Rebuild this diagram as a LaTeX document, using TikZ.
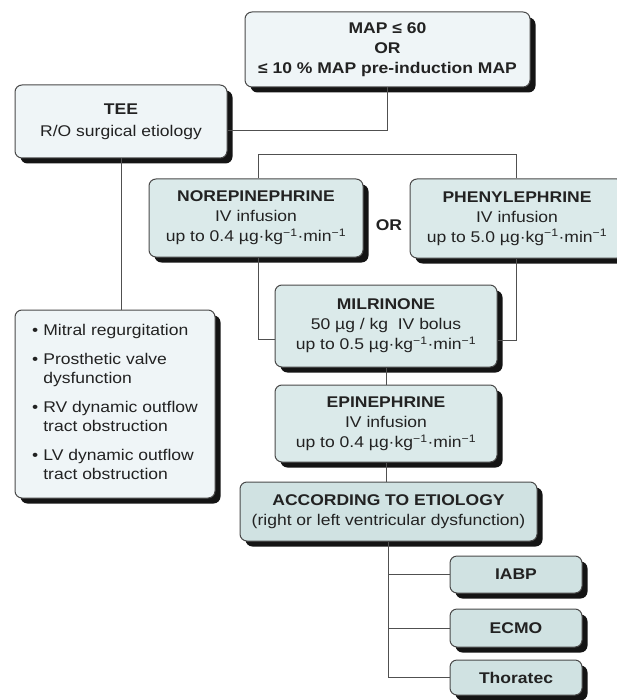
\documentclass[tikz,border=0pt]{standalone}
\usepackage{fontspec}
\setmainfont[FakeStretch=1.13]{Liberation Sans}
\definecolor{txt}{HTML}{222222}
\definecolor{edge}{HTML}{4A4A4A}
\definecolor{conncol}{HTML}{505050}
\definecolor{shadowcol}{HTML}{141414}
\definecolor{paleA}{HTML}{EFF5F7}
\definecolor{paleB}{HTML}{DBEAEA}
\definecolor{paleC}{HTML}{D0E2E2}
\newcommand\dosepart[1]{up to #1 µg·kg\textsuperscript{−1}·min\textsuperscript{−1}}
% shadow under a box: centre x, centre y, width, height (pixel units)
\newcommand\boxshadow[4]{%
  \fill[shadowbox] ({#1-#3/2+5.5},{#2-#4/2+5.5}) rectangle ({#1+#3/2+5.5},{#2+#4/2+5.5});}
\tikzset{
  box/.style={draw=edge, line width=1pt, rounded corners=7pt, text=txt,
    align=center, inner sep=0pt,
    font=\fontsize{15.5}{20}\selectfont},
  lightbox/.style={box, fill=paleA},
  drugbox/.style={box, fill=paleB},
  devbox/.style={box, fill=paleC},
  conn/.style={draw=conncol, line width=1pt},
  shadowbox/.style={fill=shadowcol, rounded corners=7pt},
}
\begin{document}
\begin{tikzpicture}[x=1pt, y=-1pt]
\useasboundingbox (0,0) rectangle (617,700);
\fill[white] (0,0) rectangle (617,700);

% shadows
\boxshadow{387.5}{49.5}{285}{75}
\boxshadow{121}{121.5}{212}{73}
\boxshadow{115}{404}{200}{188}
\boxshadow{256}{218}{214}{78}
\boxshadow{517}{218.5}{214}{79}
\boxshadow{386}{326}{222}{82}
\boxshadow{386}{423.5}{222}{77}
\boxshadow{388.5}{511.5}{297}{59}
\boxshadow{516}{574.5}{132}{37}
\boxshadow{516}{628}{132}{38}
\boxshadow{516}{677.5}{132}{35}

\node[lightbox, minimum width=285pt, minimum height=75pt] (map) at (387.5,49.5)
  {\textbf{MAP ≤ 60}\\\textbf{OR}\\\textbf{≤ 10 \% MAP pre-induction MAP}};
\node[lightbox, minimum width=212pt, minimum height=73pt,
  font=\fontsize{15.5}{22}\selectfont] (tee) at (121,121.5)
  {\textbf{TEE}\\R/O surgical etiology};
\node[lightbox, minimum width=200pt, minimum height=188pt,
  font=\fontsize{15.5}{19}\selectfont] (bul) at (115,404)
  {\begin{tabular}{@{}l@{\hspace{5pt}}l@{}}
   •&Mitral regurgitation\\[10pt]
   •&Prosthetic valve\\
    &dysfunction\\[10pt]
   •&RV dynamic outflow\\
    &tract obstruction\\[10pt]
   •&LV dynamic outflow\\
    &tract obstruction
   \end{tabular}};

\node[drugbox, minimum width=214pt, minimum height=78pt] (nor) at (256,218)
  {\textbf{NOREPINEPHRINE}\\IV infusion\\\dosepart{0.4}};
\node[drugbox, minimum width=214pt, minimum height=79pt] (phe) at (517,218.5)
  {\textbf{PHENYLEPHRINE}\\IV infusion\\\dosepart{5.0}};
\node[text=txt, font=\fontsize{15.5}{20}\selectfont\bfseries] (or) at (389,225) {OR};

\node[drugbox, minimum width=222pt, minimum height=82pt] (mil) at (386,326)
  {\textbf{MILRINONE}\\50 µg / kg \ IV bolus\\\dosepart{0.5}};
\node[drugbox, minimum width=222pt, minimum height=77pt] (epi) at (386,423.5)
  {\textbf{EPINEPHRINE}\\IV infusion\\\dosepart{0.4}};
\node[devbox, minimum width=297pt, minimum height=59pt] (eti) at (388.5,511.5)
  {\textbf{ACCORDING TO ETIOLOGY}\\(right or left ventricular dysfunction)};

\node[devbox, minimum width=132pt, minimum height=37pt] (iabp) at (516,574.5) {\textbf{IABP}};
\node[devbox, minimum width=132pt, minimum height=38pt] (ecmo) at (516,628) {\textbf{ECMO}};
\node[devbox, minimum width=132pt, minimum height=35pt] (thor) at (516,677.5) {\textbf{Thoratec}};

% connectors
\draw[conn] (map.south) |- ([yshift=-9.5pt]tee.east);
\draw[conn] (tee.south) -- (tee.south |- bul.north);
\draw[conn] ([xshift=2pt]nor.north) -- ++(0,-24) -| ([xshift=-1pt]phe.north);
\draw[conn] ([xshift=2pt]nor.south) |- ([yshift=-13pt]mil.west);
\draw[conn] ([xshift=-1pt]phe.south) |- ([yshift=-14pt]mil.east);
\draw[conn] (mil.south) -- (mil.south |- epi.north);
\draw[conn] (epi.south) -- (epi.south |- eti.north);
\draw[conn] (eti.south) |- (thor.west);
\draw[conn] (eti.south |- iabp.west) -- (iabp.west);
\draw[conn] (eti.south |- ecmo.west) -- (ecmo.west);
\end{tikzpicture}
\end{document}
